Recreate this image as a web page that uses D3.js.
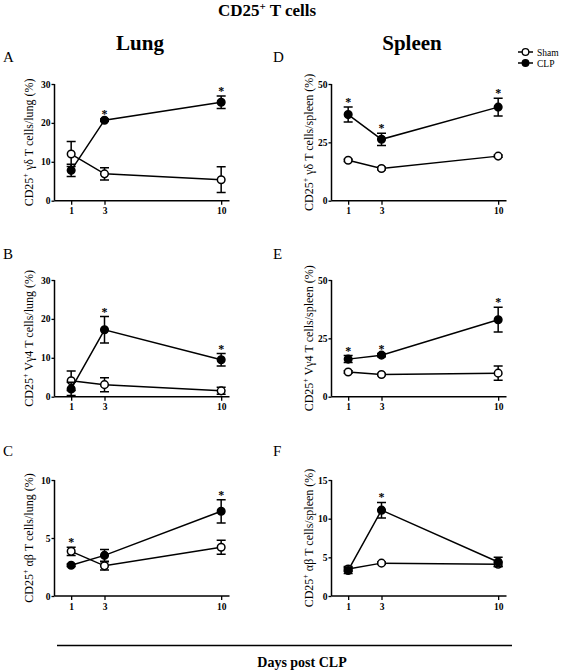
<!DOCTYPE html>
<html><head><meta charset="utf-8">
<script src="https://cdn.jsdelivr.net/npm/d3@7"></script>
<style>body{margin:0;background:#fff}svg{display:block}svg text{font-family:"Liberation Serif","Times New Roman",serif !important}</style>
</head><body>
<script>
const days = [1, 3, 10];
const xTicks = [1, 3, 10];
// Panel A: CD25+ gd T cells / lung
const A_sham = [12.0, 6.9, 5.4], A_shamErr = [3.2, 1.6, 3.3];
const A_clp = [7.8, 20.7, 25.3], A_clpErr = [1.6, 0.3, 1.6];
const A_ticks = [0, 10, 20, 30], A_star = [3, 10];
// Panel B: CD25+ Vg4 T cells / lung
const B_sham = [4.1, 3.1, 1.5], B_shamErr = [2.5, 1.8, 0.9];
const B_clp = [2.0, 17.2, 9.5], B_clpErr = [1.7, 3.4, 1.6];
const B_ticks = [0, 10, 20, 30], B_star = [3, 10];
// Panel C: CD25+ ab T cells / lung
const C_sham = [3.85, 2.6, 4.2], C_shamErr = [0.35, 0.35, 0.6];
const C_clp = [2.65, 3.5, 7.3], C_clpErr = [0.1, 0.5, 1.0];
const C_ticks = [0, 5, 10], C_star = [1, 10];
// Panel D: CD25+ gd T cells / spleen
const D_sham = [17.3, 13.8, 19.1], D_shamErr = [0.5, 0.5, 0.5];
const D_clp = [36.9, 26.3, 40.1], D_clpErr = [3.2, 2.6, 3.8];
const D_ticks = [0, 25, 50], D_star = [1, 3, 10];
// Panel E: CD25+ Vg4 T cells / spleen
const E_sham = [10.6, 9.5, 10.1], E_shamErr = [0.5, 0.4, 3.1];
const E_clp = [16.1, 17.8, 33.0], E_clpErr = [1.5, 0.7, 5.3];
const E_ticks = [0, 25, 50], E_star = [1, 3, 10];
// Panel F: CD25+ ab T cells / spleen
const F_sham = [3.5, 4.25, 4.1], F_shamErr = [0.3, 0.15, 0.3];
const F_clp = [3.3, 11.1, 4.4], F_clpErr = [0.4, 1.0, 0.6];
const F_ticks = [0, 5, 10, 15], F_star = [3];

const panels = [
  {id:"A", col:0, row:0, sham:A_sham, shamErr:A_shamErr, clp:A_clp, clpErr:A_clpErr, ticks:A_ticks, stars:A_star, label:["CD25","+"," γδ T cells/lung (%)"]},
  {id:"B", col:0, row:1, sham:B_sham, shamErr:B_shamErr, clp:B_clp, clpErr:B_clpErr, ticks:B_ticks, stars:B_star, label:["CD25","+"," Vγ4 T cells/lung (%)"]},
  {id:"C", col:0, row:2, sham:C_sham, shamErr:C_shamErr, clp:C_clp, clpErr:C_clpErr, ticks:C_ticks, stars:C_star, label:["CD25","+"," αβ T cells/lung (%)"]},
  {id:"D", col:1, row:0, sham:D_sham, shamErr:D_shamErr, clp:D_clp, clpErr:D_clpErr, ticks:D_ticks, stars:D_star, label:["CD25","+"," γδ T cells/spleen  (%)"]},
  {id:"E", col:1, row:1, sham:E_sham, shamErr:E_shamErr, clp:E_clp, clpErr:E_clpErr, ticks:E_ticks, stars:E_star, label:["CD25","+"," Vγ4 T cells/spleen (%)"]},
  {id:"F", col:1, row:2, sham:F_sham, shamErr:F_shamErr, clp:F_clp, clpErr:F_clpErr, ticks:F_ticks, stars:F_star, label:["CD25","+"," αβ T cells/spleen (%)"]}
];

const W = 567, H = 671;
const svg = d3.select("body").append("svg").attr("width", W).attr("height", H);

const colX = [[54.5, 229.5], [331.5, 506.5]];
const rowY = [[200.7, 84], [396.7, 280], [596, 480]];
const letterX = [3, 273];
const letterY = [62, 259, 456];
const labelX = [33, 313];

svg.append("text").attr("x", 267).attr("y", 16).attr("text-anchor", "middle")
  .attr("font-size", 17).attr("font-weight", "bold")
  .call(t => { t.append("tspan").text("CD25"); t.append("tspan").attr("font-size", 11).attr("dy", -6).text("+"); t.append("tspan").attr("dy", 6).text(" T cells"); });
svg.append("text").attr("x", 140).attr("y", 50).attr("text-anchor", "middle").attr("font-size", 21).attr("font-weight", "bold").text("Lung");
svg.append("text").attr("x", 412).attr("y", 50).attr("text-anchor", "middle").attr("font-size", 21).attr("font-weight", "bold").text("Spleen");

panels.forEach(p => {
  const x = d3.scaleLinear().domain([0, 10.5]).range(colX[p.col]);
  const y = d3.scaleLinear().domain([0, d3.max(p.ticks)]).range(rowY[p.row]);
  const g = svg.append("g");

  svg.append("text").attr("x", letterX[p.col]).attr("y", letterY[p.row]).attr("font-size", 15).text(p.id);

  const ya = g.append("g").attr("transform", `translate(${x(0)},0)`)
    .call(d3.axisLeft(y).tickValues(p.ticks).tickSize(3).tickPadding(1).tickFormat(d3.format("d")));
  const xa = g.append("g").attr("transform", `translate(0,${y(0)})`)
    .call(d3.axisBottom(x).tickValues(xTicks).tickSize(4).tickPadding(3).tickFormat(d3.format("d")));
  [ya, xa].forEach(a => {
    a.attr("font-family", null);
    a.select(".domain").attr("stroke", "#000").attr("stroke-width", 1.5);
    a.selectAll(".tick line").attr("stroke", "#000").attr("stroke-width", 1.3);
    a.selectAll(".tick text").attr("font-size", 9.5).attr("font-weight", "bold").attr("fill", "#000");
  });
  ya.select(".domain").attr("d", `M0,${y(0)}V${y(d3.max(p.ticks))}`);
  xa.select(".domain").attr("d", `M${x(0)},0H${x(10.5)}`);

  const cy = (y(0) + y(d3.max(p.ticks))) / 2;
  const lab = g.append("text").attr("transform", `translate(${labelX[p.col]},${cy}) rotate(-90)`)
    .attr("text-anchor", "middle").attr("font-size", 12);
  lab.append("tspan").text(p.label[0]);
  lab.append("tspan").attr("font-size", 8).attr("dy", -5).text(p.label[1]);
  lab.append("tspan").attr("dy", 5).text(p.label[2]);

  const series = [
    {v: p.sham, e: p.shamErr, fill: "#fff"},
    {v: p.clp, e: p.clpErr, fill: "#000"}
  ];
  const line = d3.line().x((d, i) => x(days[i])).y(d => y(d));
  series.forEach(s => {
    g.append("path").attr("d", line(s.v)).attr("fill", "none").attr("stroke", "#000").attr("stroke-width", 1.5);
  });
  series.forEach(s => {
    const eg = g.append("g");
    s.v.forEach((v, i) => {
      const cx = x(days[i]), t = y(v + s.e[i]), b = y(v - s.e[i]);
      eg.append("path").attr("d", `M${cx},${t}V${b}M${cx - 4.5},${t}H${cx + 4.5}M${cx - 4.5},${b}H${cx + 4.5}`)
        .attr("stroke", "#000").attr("stroke-width", 1.5).attr("fill", "none");
    });
    eg.selectAll("circle").data(s.v).join("circle")
      .attr("cx", (d, i) => x(days[i])).attr("cy", d => y(d)).attr("r", 3.8)
      .attr("fill", s.fill).attr("stroke", "#000").attr("stroke-width", 1.5);
  });
  p.stars.forEach(dd => {
    const i = days.indexOf(dd);
    const top = Math.max(p.clp[i] + p.clpErr[i], p.sham[i] + p.shamErr[i]);
    g.append("text").attr("x", x(dd)).attr("y", y(top) - 1).attr("text-anchor", "middle")
      .attr("font-size", 12).attr("font-weight", "bold").text("*");
  });
});

// Legend
const legend = [{name: "Sham", fill: "#fff"}, {name: "CLP", fill: "#000"}];
legend.forEach((l, i) => {
  const ly = 52 + i * 11;
  svg.append("line").attr("x1", 518).attr("x2", 533).attr("y1", ly).attr("y2", ly).attr("stroke", "#000").attr("stroke-width", 1.5);
  svg.append("circle").attr("cx", 525.5).attr("cy", ly).attr("r", 3.3).attr("fill", l.fill).attr("stroke", "#000").attr("stroke-width", 1.3);
  svg.append("text").attr("x", 537).attr("y", ly + 3.5).attr("font-size", 9.5).text(l.name);
});

svg.append("line").attr("x1", 57).attr("x2", 512).attr("y1", 645.5).attr("y2", 645.5).attr("stroke", "#000").attr("stroke-width", 1.3);
svg.append("text").attr("x", 302).attr("y", 667).attr("text-anchor", "middle").attr("font-size", 14).attr("font-weight", "bold").text("Days post CLP");
</script>
</body></html>
